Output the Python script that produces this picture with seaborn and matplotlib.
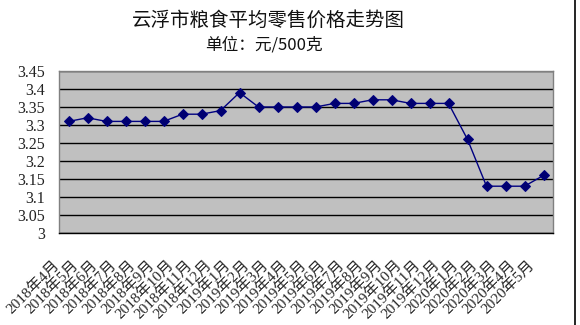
import matplotlib
matplotlib.use("Agg")
import matplotlib.pyplot as plt
import matplotlib.transforms as mtransforms
from matplotlib.lines import Line2D
import seaborn as sns
import pandas as pd

months = ["2018年4月", "2018年5月", "2018年6月", "2018年7月", "2018年8月", "2018年9月",
          "2018年10月", "2018年11月", "2018年12月", "2019年1月", "2019年2月", "2019年3月",
          "2019年4月", "2019年5月", "2019年6月", "2019年7月", "2019年8月", "2019年9月",
          "2019年10月", "2019年11月", "2019年12月", "2020年1月", "2020年2月", "2020年3月",
          "2020年4月", "2020年5月"]
prices = [3.31, 3.32, 3.31, 3.31, 3.31, 3.31, 3.33, 3.33, 3.34, 3.39, 3.35, 3.35,
          3.35, 3.35, 3.36, 3.36, 3.37, 3.37, 3.36, 3.36, 3.36, 3.26, 3.13, 3.13,
          3.13, 3.16]
yticks = [3.0, 3.05, 3.1, 3.15, 3.2, 3.25, 3.3, 3.35, 3.4, 3.45]
ytick_labels = ["3", "3.05", "3.1", "3.15", "3.2", "3.25", "3.3", "3.35", "3.4", "3.45"]
title = "云浮市粮食平均零售价格走势图"
subtitle = "单位：元/500克"

sns.set_style("white")
plt.rcParams['font.family'] = ['Noto Sans CJK SC', 'DejaVu Sans']
tick_family = ['Liberation Serif', 'Noto Sans CJK SC']

df = pd.DataFrame({"month": months, "price": prices, "idx": range(len(months))})

fig = plt.figure(figsize=(5.8, 3.25), dpi=100)
ax = fig.add_axes([59/580, 1 - 233/325, (553 - 59)/580, (233 - 71)/325])
ax.set_facecolor("#C0C0C0")

sns.lineplot(data=df, x="idx", y="price", ax=ax, color="#000080", linewidth=1.0,
             marker="D", markersize=5, markeredgecolor="#000080",
             markerfacecolor="#000070", zorder=3)

ax.set_xlim(-0.5, len(months) - 0.5)
ax.set_ylim(3.0, 3.45)
ax.set_yticks(yticks)
ax.set_yticklabels(ytick_labels, family=tick_family, fontsize=11.5, color="#222222")
ax.yaxis.grid(True, color="black", linewidth=1.0)
ax.set_axisbelow(True)
ax.tick_params(axis="y", length=0, pad=10)

# category boundary ticks pointing into plot
ax.set_xticks([i + 0.5 for i in range(len(months) - 1)], minor=True)
ax.tick_params(axis="x", which="minor", direction="in", length=4, color="black", width=0.8)
ax.set_xticks(range(len(months)))
ax.set_xticklabels(months, rotation=45, ha="right", va="top", rotation_mode="anchor",
                   fontsize=11, family=tick_family)
ax.tick_params(axis="x", which="major", length=0, pad=18)
offset = mtransforms.ScaledTranslation(-16/100, 0, fig.dpi_scale_trans)
for lbl in ax.get_xticklabels():
    lbl.set_transform(lbl.get_transform() + offset)

ax.set_xlabel("")
ax.set_ylabel("")
for side in ["top", "right", "left"]:
    ax.spines[side].set_color("#808080")
    ax.spines[side].set_linewidth(1.0)
ax.spines["bottom"].set_color("black")
ax.spines["bottom"].set_linewidth(1.0)

fig.text(268/580, 1 - 20/325, title, ha="center", va="center", fontsize=14, color="#111111")
fig.text(264/580, 1 - 45/325, subtitle, ha="center", va="center", fontsize=12, color="#111111")

fig.add_artist(Line2D([575/580, 575/580], [0, 1], color="black", linewidth=1.2,
                      transform=fig.transFigure))

fig.savefig("out.png", dpi=100, facecolor="white")
